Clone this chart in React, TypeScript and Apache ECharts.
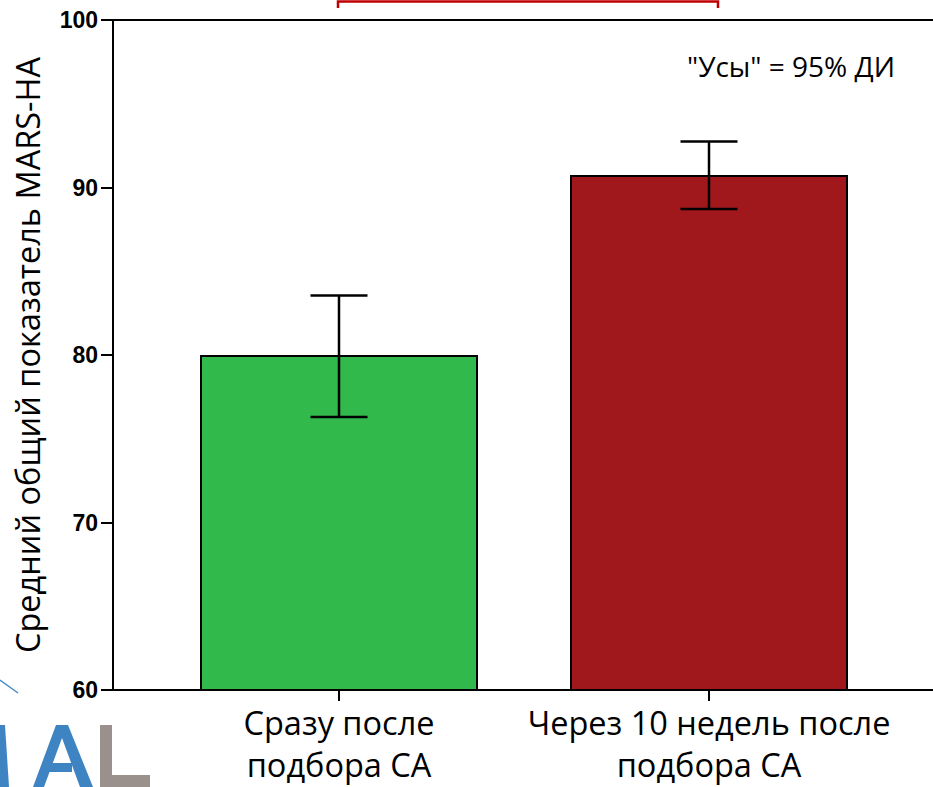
import React, { useEffect, useRef } from "react";
import * as echarts from "echarts";

const categories = ["Сразу после\nподбора CA", "Через 10 недель после\nподбора CA"];
const positions = [1, 2];
const means = [80.0, 90.75];
const ciLow = [76.3, 88.72];
const ciHigh = [83.55, 92.74];
const yTicks = [60, 70, 80, 90, 100];
const barColors = ["#32b94b", "#a1181c"];
const yAxisTitle = "Средний общий показатель MARS-HA";
const noteText = "\"Усы\" = 95% ДИ";

export default function App() {
  const ref = useRef<HTMLDivElement>(null);
  useEffect(() => {
    if (!ref.current) return;
    const chart = echarts.init(ref.current, null, { renderer: "svg" });
    const xMin = 1 - 226 / 370;
    const xMax = xMin + 830 / 370;
    const option: any = {
      animation: false,
      grid: {
        left: 113,
        top: 20,
        width: 830,
        height: 670,
        show: true,
        borderColor: "#000",
        borderWidth: 2,
        backgroundColor: "transparent",
        containLabel: false,
        outerBoundsMode: "none",
      },
      xAxis: {
        type: "value",
        min: xMin,
        max: xMax,
        splitLine: { show: false },
        axisLine: { show: true, onZero: false, lineStyle: { color: "#000", width: 2 } },
        axisTick: { show: true, customValues: positions, length: 11, lineStyle: { color: "#000", width: 2 } },
        axisLabel: {
          show: true,
          customValues: positions,
          formatter: (v: number) => {
            const i = positions.indexOf(Math.round(v));
            return i >= 0 ? categories[i] : "";
          },
          fontFamily: "Open Sans",
          fontSize: 32.5,
          lineHeight: 42,
          color: "#000",
          margin: 11,
        },
      },
      yAxis: {
        type: "value",
        min: 60,
        max: 100,
        interval: 10,
        splitLine: { show: false },
        axisLine: { show: true, lineStyle: { color: "#000", width: 2 } },
        axisTick: { show: true, length: 12, lineStyle: { color: "#000", width: 2 } },
        axisLabel: {
          fontFamily: "Liberation Sans",
          fontWeight: "bold",
          fontSize: 23,
          color: "#000",
          margin: 15,
          formatter: (v: number) => (yTicks.includes(v) ? String(v) : ""),
        },
        name: yAxisTitle,
        nameLocation: "middle",
        nameGap: 69,
        nameTextStyle: { fontFamily: "Open Sans", fontSize: 32.5, color: "#000" },
      },
      series: [
        {
          type: "bar",
          barWidth: 278,
          clip: true,
          data: positions.map((p, i) => ({
            value: [p, means[i]],
            itemStyle: { color: barColors[i], borderColor: "#000", borderWidth: 2 },
          })),
          z: 2,
        },
        {
          type: "custom",
          z: 5,
          data: positions.map((p, i) => [p, ciLow[i], ciHigh[i]]),
          renderItem: (params: any, api: any) => {
            const x = api.value(0);
            const lo = api.coord([x, api.value(1)]);
            const hi = api.coord([x, api.value(2)]);
            const half = 28.5;
            const st = { stroke: "#000", lineWidth: 2.5 };
            return {
              type: "group",
              children: [
                { type: "line", shape: { x1: lo[0], y1: lo[1], x2: hi[0], y2: hi[1] }, style: st },
                { type: "line", shape: { x1: hi[0] - half, y1: hi[1], x2: hi[0] + half, y2: hi[1] }, style: st },
                { type: "line", shape: { x1: lo[0] - half, y1: lo[1], x2: lo[0] + half, y2: lo[1] }, style: st },
              ],
            };
          },
        },
      ],
      graphic: [
        {
          type: "text",
          left: 687,
          top: 52,
          style: { text: noteText, font: "28px 'Open Sans'", fill: "#000" },
        },
        {
          type: "polyline",
          shape: { points: [[338, 8], [338, 1.5], [718, 1.5], [718, 8]] },
          style: { stroke: "#c00000", lineWidth: 2.5, fill: null },
        },
        {
          type: "line",
          shape: { x1: 0, y1: 680, x2: 18, y2: 693 },
          style: { stroke: "#4a8cc8", lineWidth: 1.5 },
        },
        {
          type: "polygon",
          shape: { points: [[0, 725], [5, 725], [9, 787], [0, 787]] },
          style: { fill: "#3f84c2" },
        },
        {
          type: "polygon",
          shape: { points: [[33, 787], [56, 725], [68, 725], [93, 787], [80, 787], [62, 738], [44, 787]] },
          style: { fill: "#3f84c2" },
        },
        {
          type: "rect",
          shape: { x: 44, y: 763, width: 28, height: 9 },
          style: { fill: "#3f84c2" },
        },
        {
          type: "polygon",
          shape: { points: [[100, 725], [112, 725], [112, 775], [150, 775], [150, 787], [100, 787]] },
          style: { fill: "#9a918c" },
        },
      ],
    };
    chart.setOption(option);
    return () => chart.dispose();
  }, []);
  return <div ref={ref} style={{ width: 933, height: 787, position: "absolute", left: 0, top: 0 }} />;
}
